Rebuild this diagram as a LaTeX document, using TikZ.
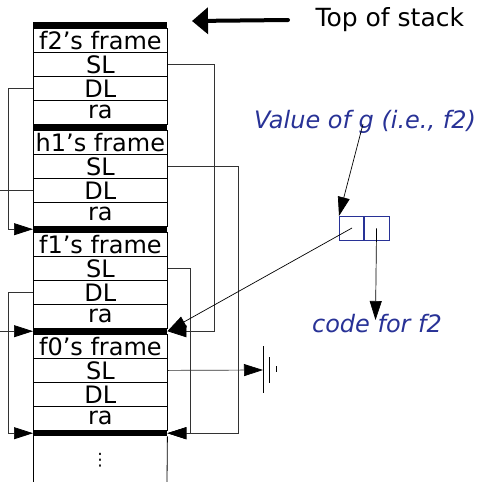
\documentclass[tikz,border=0pt]{standalone}
\usepackage{fontspec}
\setmainfont{DejaVu Sans}
\usetikzlibrary{arrows.meta}
\definecolor{navy}{RGB}{40,50,150}
\begin{document}
\begin{tikzpicture}[x=1pt,y=-1pt]
\tikzset{
 cell/.style={draw, minimum width=134pt, minimum height=24pt, inner sep=0pt, anchor=north west, font=\fontsize{24}{28}\selectfont, line width=0.8pt},
 bar/.style={fill=black, minimum width=134pt, minimum height=6pt, inner sep=0pt, anchor=north west},
 link/.style={draw=black!80, line width=0.7pt},
 ptr/.style={link, -{Triangle[length=19pt,width=12pt,color=black]}},
 bluebox/.style={draw=navy, line width=0.7pt, minimum height=24pt, inner sep=0pt, anchor=north west},
 bluetext/.style={text=navy, font=\fontsize{24}{28}\selectfont\itshape, anchor=base},
 lbl/.style={font=\fontsize{25}{28}\selectfont}
}
\useasboundingbox (0,0) rectangle (479,482);
% frames
\node[cell] (f2h) at (33,28) {f2's frame};
\node[cell] (f2sl) at (33,52) {SL};
\node[cell] (f2dl) at (33,76) {DL};
\node[cell] (f2ra) at (33,100) {ra};
\node[cell] (h1h) at (33,130) {h1's frame};
\node[cell] (h1sl) at (33,154) {SL};
\node[cell] (h1dl) at (33,178) {DL};
\node[cell] (h1ra) at (33,202) {ra};
\node[cell] (f1h) at (33,232) {f1's frame};
\node[cell] (f1sl) at (33,256) {SL};
\node[cell] (f1dl) at (33,280) {DL};
\node[cell] (f1ra) at (33,304) {ra};
\node[cell] (f0h) at (33,334) {f0's frame};
\node[cell] (f0sl) at (33,358) {SL};
\node[cell] (f0dl) at (33,382) {DL};
\node[cell] (f0ra) at (33,406) {ra};
\node[bar] (b0) at (33,22) {};
\node[bar] (b1) at (33,124) {};
\node[bar] (b2) at (33,226) {};
\node[bar] (b3) at (33,328) {};
\node[bar] (b4) at (33,430) {};
\draw[line width=0.8pt] (b4.south west) -- (33,482);
\draw[line width=0.8pt] (b4.south east) -- (167,482);
\node[font=\fontsize{17}{20}\selectfont] (dots) at (100,460) {⋮};
% links
\coordinate (edgeL) at (0,0);
\draw[ptr] (f2sl.east) -- ++(47,0) |- (b3.east);
\draw[ptr] (f2dl.west) -- ++(-25,0) |- (b2.west);
\draw[ptr] (h1sl.east) -- ++(71,0) |- (b4.east);
\draw[link] (h1dl.west) -- (h1dl.west -| edgeL);
\draw[ptr] (b3.west -| edgeL) -- (b3.west);
\draw[ptr] (f1sl.east) -- ++(23,0) |- (b4.east);
\draw[ptr] (f1dl.west) -- ++(-25,0) |- (b4.west);
% nil
\coordinate (nil) at (263,370);
\draw[ptr] (f0sl.east) -- (nil);
\draw[line width=0.8pt] (nil) ++(0,-24) -- ++(0,47);
\draw[line width=0.8pt] (nil) ++(6,-13) -- ++(0,26);
\draw[line width=0.8pt] (nil) ++(13,-4) -- ++(0,6);
% top of stack
\node[lbl, anchor=west] (top) at (312,20) {Top of stack};
\coordinate (topend) at (192,21);
\draw[line width=4pt, line cap=round, -{Triangle[length=16pt,width=26pt]}] ([xshift=-24pt]top.west) -- (topend);
% closure
\node[bluebox, minimum width=24pt] (gl) at (339,216) {};
\node[bluebox, minimum width=25pt] (gr) at (gl.north east) {};
\node[bluetext] (val) at (365,128) {Value of g (i.e., f2)};
\node[bluetext] (code) at (377,332) {code for f2};
\coordinate (gpt) at (363,124);
\draw[ptr, draw=black] (gpt) -- (gl.north west);
\coordinate (gin) at (352,228);
\draw[ptr, draw=black] (gin) -- (b3.east);
\coordinate (ctip) at (375.5,320);
\draw[ptr, draw=black] (gr.center) -- (ctip);
\end{tikzpicture}
\end{document}
